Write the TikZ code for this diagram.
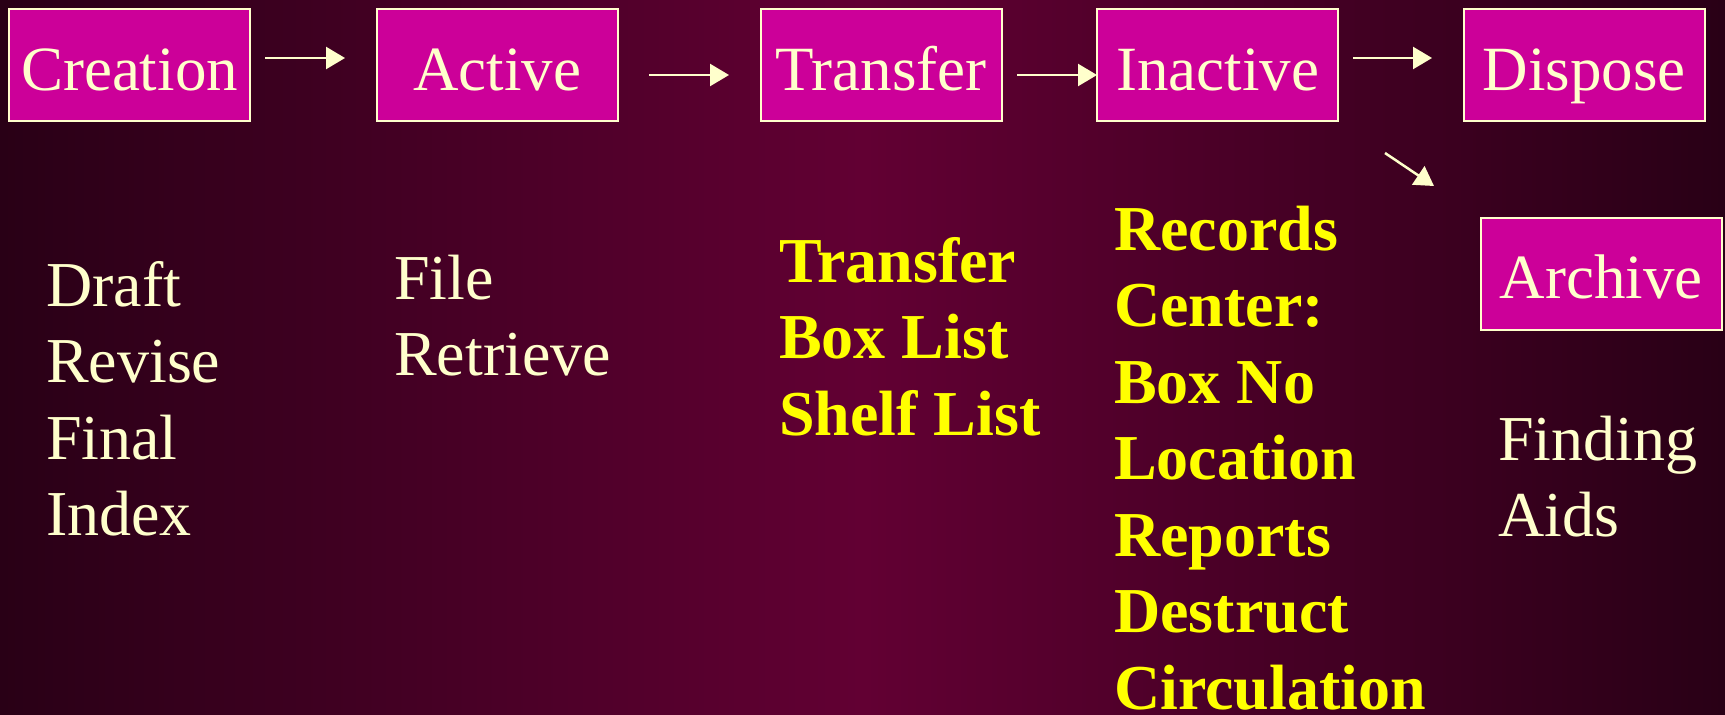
\documentclass[tikz,border=0pt]{standalone}
\usepackage{fontspec}
\setmainfont{Liberation Serif}
\usetikzlibrary{arrows.meta}
\definecolor{bgedge}{HTML}{290016}
\definecolor{bgmid}{HTML}{620033}
\definecolor{boxfill}{HTML}{CC0099}
\definecolor{cream}{HTML}{FFFFCC}
\definecolor{yel}{HTML}{FFFF00}
\tikzset{
  stagebox/.style={draw=cream, line width=2pt, fill=boxfill, text=cream,
    minimum width=241pt, minimum height=112pt, inner sep=0pt,
    font=\fontsize{63}{70}\selectfont, text height=50pt, text depth=0pt},
  plainlist/.style={anchor=base west, inner sep=0pt, align=left, text=cream,
    font=\fontsize{64}{76.5}\selectfont},
  boldlist/.style={anchor=base west, inner sep=0pt, align=left, text=yel,
    font=\fontsize{64}{76.5}\selectfont\bfseries},
  flow/.style={draw=cream, line width=2.5pt, -{Triangle[length=19pt,width=22pt]}}
}
\begin{document}
\begin{tikzpicture}[x=1pt,y=-1pt]
\useasboundingbox (0,0) rectangle (1725,715);
\shade[left color=bgedge, right color=bgedge, middle color=bgmid] (0,0) rectangle (1725,715);

\node[stagebox] (creation) at (129.5,65) {Creation};
\node[stagebox] (active)   at (497,65)   {Active};
\node[stagebox] (transfer) at (881,65)   {Transfer};
\node[stagebox] (inactive) at (1217.5,65) {Inactive};
\node[stagebox] (dispose)  at (1584,65)  {Dispose};
\node[stagebox] (archive)  at (1601,273.5) {Archive};

% anchors are the baseline of each list's last line
\node[plainlist] (draftlist) at (46,535.5) {Draft\\Revise\\Final\\Index};
\node[plainlist] (filelist) at (394,375.5) {File\\Retrieve};
\node[boldlist] (transferlist) at (779,435) {Transfer\\Box List\\Shelf List};
\node[boldlist] (recordslist) at (1114,709) {Records\\Center:\\Box No\\Location\\Reports\\Destruct\\Circulation};
\node[plainlist] (findinglist) at (1498,536.5) {Finding\\Aids};

\coordinate (a1s) at (265,58);  \coordinate (a1e) at (345,58);
\coordinate (a2s) at (649,75);  \coordinate (a2e) at (729,75);
\coordinate (a3s) at (1017,75); \coordinate (a3e) at (1097,75);
\coordinate (a4s) at (1353,58); \coordinate (a4e) at (1432,58);
\coordinate (a5s) at (1385,153); \coordinate (a5e) at (1434,186);

\draw[flow] (a1s) -- (a1e);
\draw[flow] (a2s) -- (a2e);
\draw[flow] (a3s) -- (a3e);
\draw[flow] (a4s) -- (a4e);
\draw[flow] (a5s) -- (a5e);
\end{tikzpicture}
\end{document}
